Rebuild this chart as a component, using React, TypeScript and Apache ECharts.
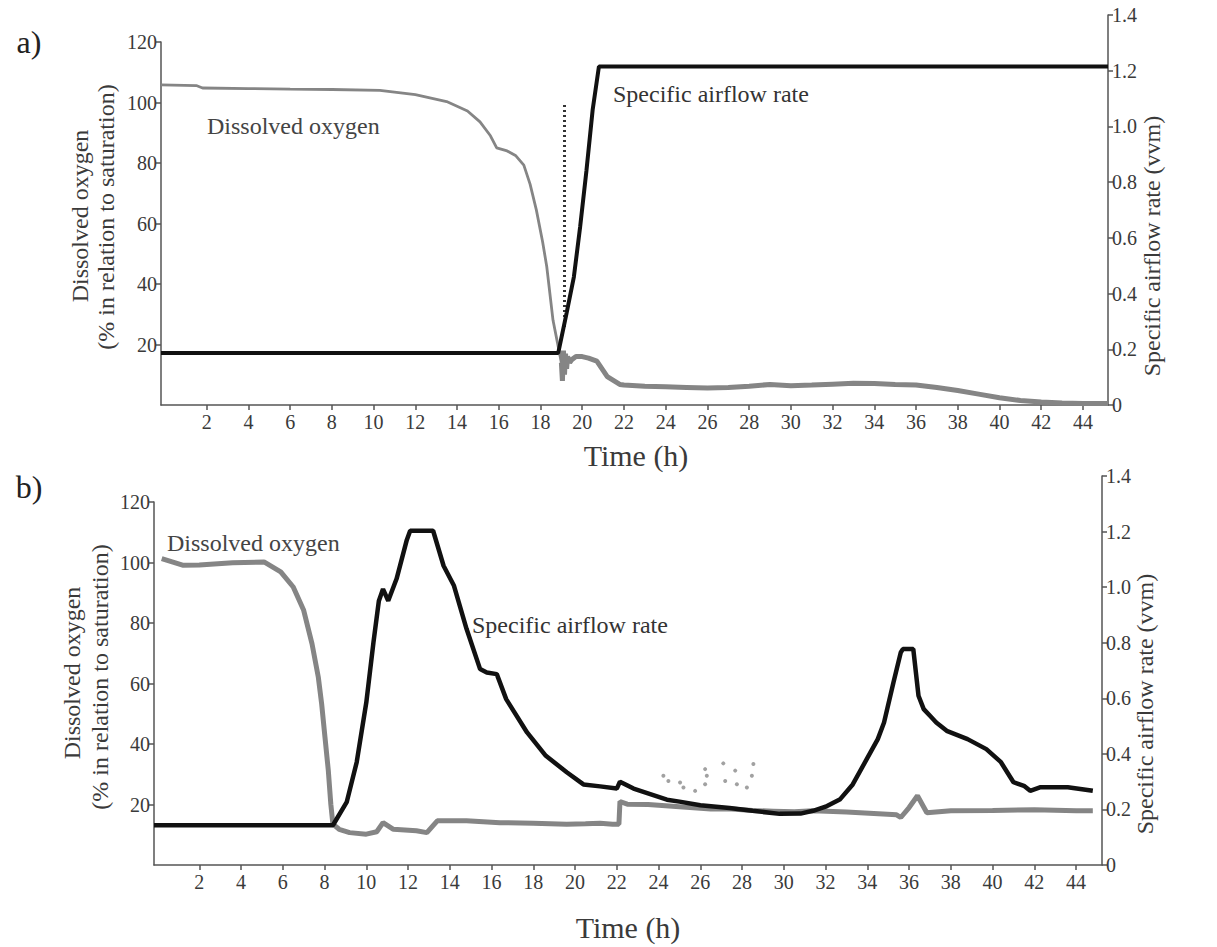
import React, { useEffect, useRef } from "react";
import * as echarts from "echarts";

// ---------- Data ----------
// Panel a) dissolved oxygen (% saturation), smooth part before 19 h
const doA1Time = [-0.19, 1.5, 1.8, 4, 6, 8, 10.3, 12, 13.5, 14.5, 15.1, 15.6, 15.9, 16.4, 16.8, 17.2, 17.5, 17.8, 18.1, 18.3, 18.6, 18.85, 19.0];
const doA1Value = [105.8, 105.6, 104.8, 104.6, 104.4, 104.3, 104.0, 102.6, 100.3, 97.2, 93.6, 89.0, 85.0, 84.0, 82.5, 79.3, 73, 64.5, 54, 45.7, 28, 19.3, 14];
// Panel a) dissolved oxygen, noisy part after 19 h
const doA2Time = [19.0, 19.05, 19.1, 19.15, 19.2, 19.25, 19.3, 19.4, 19.5, 19.7, 20.0, 20.3, 20.7, 21.2, 21.8, 22, 23, 24, 25, 26, 27, 28, 29, 30, 31, 32, 33, 34, 35, 36, 37, 38, 39, 40, 41, 42, 43, 44, 45.2];
const doA2Value = [14, 8, 18, 10, 17, 12, 16, 14, 15, 16, 16, 15.5, 14.5, 9.4, 6.8, 6.6, 6.2, 6, 5.8, 5.6, 5.8, 6.2, 6.8, 6.4, 6.6, 6.9, 7.2, 7.1, 6.8, 6.6, 5.8, 4.8, 3.6, 2.4, 1.5, 1.0, 0.7, 0.5, 0.5];
// Panel a) specific airflow rate (vvm)
const airATime = [-0.19, 18.85, 19.25, 19.6, 19.9, 20.2, 20.5, 20.8, 45.2];
const airAValue = [0.187, 0.187, 0.33, 0.46, 0.64, 0.84, 1.06, 1.215, 1.215];
// Panel a) dotted vertical trace near 19 h
const airADotTime = [19.15, 19.15];
const airADotValue = [0.28, 1.08];

// Panel b) dissolved oxygen
const doBTime = [0.2, 1.2, 2, 3.6, 5.1, 5.9, 6.5, 7.0, 7.4, 7.7, 7.86, 8.02, 8.18, 8.3, 8.4, 8.7, 9.2, 10.0, 10.5, 10.8, 11.3, 12.4, 12.9, 13.4, 14.8, 16.4, 18, 19.6, 20.5, 21.2, 21.8, 22.1, 22.15, 22.5, 23.5, 24.5, 25.5, 26.5, 27.5, 28.5, 29.5, 30.5, 31.4, 33, 35.4, 35.6, 36.0, 36.4, 36.85, 38, 40, 42, 44, 44.8];
const doBValue = [101.3, 99.1, 99.2, 99.9, 100.2, 96.9, 91.9, 84.2, 73.1, 62.1, 53.3, 42.2, 31.2, 20.1, 13.5, 11.8, 10.7, 10.2, 11, 14, 11.8, 11.3, 10.7, 14.6, 14.6, 14.0, 13.8, 13.5, 13.6, 13.8, 13.5, 13.5, 21, 20.1, 20, 19.5, 19, 18.5, 18.5, 18, 17.8, 17.6, 17.9, 17.5, 16.6, 15.7, 19, 22.9, 17.3, 17.9, 18, 18.3, 17.9, 17.9];
// Panel b) scattered DO readings (24–29 h)
const doBDotTime = [24.23, 24.47, 25.03, 25.19, 26.23, 26.31, 26.23, 27.1, 27.19, 27.67, 27.75, 28.54, 28.47, 28.23, 25.75];
const doBDotValue = [29.5, 27.8, 27.3, 25.6, 31.7, 29.5, 26.7, 33.6, 27.8, 31.2, 26.7, 33.4, 29.5, 25.6, 24.5];
// Panel b) specific airflow rate (vvm)
const airBTime = [-0.17, 8.4, 9.06, 9.54, 10.0, 10.34, 10.6, 10.8, 11.05, 11.45, 11.94, 12.1, 13.2, 13.7, 14.2, 14.8, 15.45, 15.77, 16.25, 16.7, 17.7, 18.6, 19.6, 20.4, 21.2, 22.0, 22.15, 22.8, 24.4, 25, 26, 27.4, 28.5, 29.8, 30.8, 31.4, 32.0, 32.7, 33.3, 33.97, 34.5, 34.8, 35.25, 35.6, 35.7, 36.2, 36.45, 36.7, 37.0, 37.3, 37.8, 38.8, 39.7, 40.4, 41.0, 41.5, 41.8, 42.3, 43.6, 44.8];
const airBValue = [0.143, 0.143, 0.226, 0.37, 0.585, 0.80, 0.95, 0.993, 0.951, 1.03, 1.17, 1.203, 1.203, 1.077, 1.005, 0.85, 0.705, 0.693, 0.687, 0.597, 0.477, 0.393, 0.334, 0.29, 0.283, 0.275, 0.30, 0.275, 0.235, 0.228, 0.215, 0.205, 0.195, 0.184, 0.185, 0.195, 0.21, 0.237, 0.29, 0.381, 0.453, 0.513, 0.657, 0.765, 0.777, 0.777, 0.609, 0.561, 0.537, 0.513, 0.483, 0.453, 0.417, 0.37, 0.298, 0.285, 0.267, 0.28, 0.28, 0.267];

// Tick labels
const timeTicks = [2, 4, 6, 8, 10, 12, 14, 16, 18, 20, 22, 24, 26, 28, 30, 32, 34, 36, 38, 40, 42, 44];
const doTicks = [20, 40, 60, 80, 100, 120];
const airTicks = [0, 0.2, 0.4, 0.6, 0.8, 1.0, 1.2, 1.4];

const zip = (t: number[], v: number[]) => t.map((x, i) => [x, v[i]]);

const FONT = '"Liberation Serif", "Times New Roman", serif';
const AXIS_COLOR = "#555";
const TEXT_COLOR = "#3a3a3a";
const DO_COLOR = "#858585";
const AIR_COLOR = "#111";

export default function App() {
  const ref = useRef<HTMLDivElement>(null);

  useEffect(() => {
    if (!ref.current) return;
    const chart = echarts.init(ref.current, undefined, { renderer: "svg" });

    const xAxisBase = (gridIndex: number, min: number, max: number, show: boolean) => ({
      type: "value",
      gridIndex,
      min,
      max,
      show,
      position: "bottom",
      splitLine: { show: false },
      axisLine: { show: true, onZero: false, lineStyle: { color: AXIS_COLOR, width: 1.5 } },
      axisTick: { show: true, inside: false, length: 5, customValues: timeTicks, lineStyle: { color: AXIS_COLOR, width: 1.5 } },
      axisLabel: { show: true, customValues: timeTicks, margin: 7, fontFamily: FONT, fontSize: 20, color: TEXT_COLOR },
    });

    const yDo = (gridIndex: number) => ({
      type: "value",
      gridIndex,
      min: 0,
      max: 120,
      position: "left",
      splitLine: { show: false },
      axisLine: { show: true, onZero: false, lineStyle: { color: AXIS_COLOR, width: 1.5 } },
      axisTick: { show: true, length: 5, customValues: doTicks, lineStyle: { color: AXIS_COLOR, width: 1.5 } },
      axisLabel: { customValues: doTicks, margin: 4, fontFamily: FONT, fontSize: 20, color: TEXT_COLOR },
    });

    const yAir = (gridIndex: number) => ({
      type: "value",
      gridIndex,
      min: 0,
      max: 1.4,
      position: "right",
      splitLine: { show: false },
      axisLine: { show: true, onZero: false, lineStyle: { color: AXIS_COLOR, width: 1.5 } },
      axisTick: { show: true, length: 5, customValues: airTicks, lineStyle: { color: AXIS_COLOR, width: 1.5 } },
      axisLabel: {
        customValues: airTicks,
        margin: 4,
        fontFamily: FONT,
        fontSize: 20,
        color: TEXT_COLOR,
        formatter: (v: number) => (v === 0 ? "0" : v.toFixed(1)),
      },
    });

    const txt = (text: string, x: number, y: number, size: number, opts: any = {}) => ({
      type: "text",
      x,
      y,
      rotation: opts.rotation || 0,
      silent: true,
      style: {
        text,
        fontFamily: FONT,
        fontSize: size,
        fill: opts.fill || TEXT_COLOR,
        textAlign: opts.align || "center",
        textVerticalAlign: "middle",
      },
    });

    const R = Math.PI / 2;

    const option = {
      animation: false,
      backgroundColor: "#ffffff",
      grid: [
        { left: 161, top: 42, width: 947, height: 363 },
        { left: 161, top: 15, width: 947, height: 390 },
        { left: 154, top: 502, width: 948, height: 363 },
        { left: 154, top: 476, width: 948, height: 389 },
      ],
      xAxis: [
        xAxisBase(0, -0.19, 45.2, true),
        xAxisBase(1, -0.19, 45.2, false),
        xAxisBase(2, -0.17, 45.24, true),
        xAxisBase(3, -0.17, 45.24, false),
      ],
      yAxis: [yDo(0), yAir(1), yDo(2), yAir(3)],
      series: [
        {
          type: "line",
          xAxisIndex: 0,
          yAxisIndex: 0,
          data: zip(doA1Time, doA1Value),
          showSymbol: false,
          lineStyle: { color: DO_COLOR, width: 2.8 },
          z: 2,
        },
        {
          type: "line",
          xAxisIndex: 0,
          yAxisIndex: 0,
          data: zip(doA2Time, doA2Value),
          showSymbol: false,
          lineStyle: { color: DO_COLOR, width: 5 },
          z: 2,
        },
        {
          type: "line",
          xAxisIndex: 1,
          yAxisIndex: 1,
          data: zip(airADotTime, airADotValue),
          showSymbol: false,
          lineStyle: { color: "#333", width: 3, type: [2, 3] },
          z: 3,
        },
        {
          type: "line",
          xAxisIndex: 1,
          yAxisIndex: 1,
          data: zip(airATime, airAValue),
          showSymbol: false,
          lineStyle: { color: AIR_COLOR, width: 4 },
          z: 4,
        },
        {
          type: "scatter",
          xAxisIndex: 2,
          yAxisIndex: 2,
          data: zip(doBDotTime, doBDotValue),
          symbol: "circle",
          symbolSize: 4,
          itemStyle: { color: "#8a8a8a" },
          z: 2,
        },
        {
          type: "line",
          xAxisIndex: 2,
          yAxisIndex: 2,
          data: zip(doBTime, doBValue),
          showSymbol: false,
          lineStyle: { color: DO_COLOR, width: 5 },
          z: 2,
        },
        {
          type: "line",
          xAxisIndex: 3,
          yAxisIndex: 3,
          data: zip(airBTime, airBValue),
          showSymbol: false,
          lineStyle: { color: AIR_COLOR, width: 4.5 },
          z: 4,
        },
      ],
      graphic: [
        txt("a)", 29, 42, 32, { fill: "#222" }),
        txt("b)", 29, 487, 32, { fill: "#222" }),
        // panel a axis titles
        txt("Dissolved oxygen", 80, 216, 24, { rotation: R }),
        txt("(% in relation to saturation)", 106, 217, 24, { rotation: R }),
        txt("Specific airflow rate (vvm)", 1152, 246, 24, { rotation: R }),
        txt("Time (h)", 636, 455, 30),
        // panel a annotations
        txt("Dissolved oxygen", 207, 126, 24, { align: "left", fill: "#444" }),
        txt("Specific airflow rate", 613, 94, 24, { align: "left", fill: "#333" }),
        // panel b axis titles
        txt("Dissolved oxygen", 72, 673, 24, { rotation: R }),
        txt("(% in relation to saturation)", 100, 677, 24, { rotation: R }),
        txt("Specific airflow rate (vvm)", 1145, 704, 24, { rotation: R }),
        txt("Time (h)", 628, 927, 30),
        // panel b annotations
        txt("Dissolved oxygen", 167, 543, 24, { align: "left", fill: "#444" }),
        txt("Specific airflow rate", 472, 625, 24, { align: "left", fill: "#333" }),
      ],
    };

    chart.setOption(option as any);
    return () => chart.dispose();
  }, []);

  return (
    <div
      ref={ref}
      style={{ position: "absolute", left: 0, top: 0, width: 1217, height: 947, background: "#fff" }}
    />
  );
}
